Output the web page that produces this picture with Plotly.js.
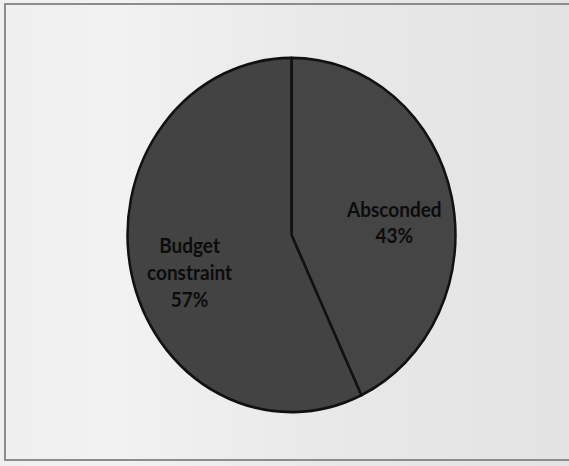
<!DOCTYPE html>
<html>
<head>
<meta charset="utf-8">
<script src="https://cdn.plot.ly/plotly-3.0.1.min.js"></script>
<style>
html,body{margin:0;padding:0;}
#wrap{position:relative;width:569px;height:466px;overflow:hidden;
  background:linear-gradient(90deg,#efefef 0%,#f2f2f2 20%,#e9e9e9 55%,#e3e3e3 100%);}
#frame{position:absolute;left:4px;top:3px;width:580px;height:458px;border:2px solid #8c8c8c;box-sizing:border-box;pointer-events:none;}
#chart{position:absolute;left:0;top:0;width:569px;height:466px;transform:scaleY(1.08);transform-origin:0 235px;}
</style>
</head>
<body>
<div id="wrap">
<div id="chart"></div>
<div id="frame"></div>
</div>
<script>
const categories = ["Absconded", "Budget<br>constraint"];
const shares = [43, 57];
const sliceColors = ["#454545", "#434343"];

const W = 569, H = 466;
const dom = {x: [0.2241, 0.8005], y: [0.1438, 0.8476]};

const trace = {
  type: "pie",
  labels: categories,
  values: shares,
  sort: false,
  direction: "clockwise",
  rotation: 0,
  textinfo: "none",
  marker: {colors: sliceColors, line: {color: "#111111", width: 2.5}},
  hoverinfo: "none",
  showlegend: false,
  domain: dom
};

// label positions derived from the slice mid-angles
const total = shares.reduce((a, b) => a + b, 0);
const cx = (dom.x[0] + dom.x[1]) / 2 * W;
const cyUp = (dom.y[0] + dom.y[1]) / 2 * H;
const R = Math.min((dom.x[1] - dom.x[0]) * W, (dom.y[1] - dom.y[0]) * H) / 2;
let cum = 0;
const annotations = shares.map((v, i) => {
  const mid = (cum + v / 2) / total * 2 * Math.PI;
  cum += v;
  const r = 0.64 * R;
  const px = cx + r * Math.sin(mid);
  const pyUp = cyUp + r * Math.cos(mid);
  return {
    xref: "paper", yref: "paper",
    x: px / W, y: pyUp / H,
    xanchor: "center", yanchor: "middle",
    yshift: -11,
    showarrow: false,
    align: "center",
    text: categories[i] + "<br>" + Math.round(v / total * 100) + "%",
    font: {family: "Lato, 'Open Sans', sans-serif", size: 19, weight: "bold", color: "#0c0c0c"}
  };
});

const layout = {
  width: W,
  height: H,
  margin: {l: 0, r: 0, t: 0, b: 0},
  paper_bgcolor: "rgba(0,0,0,0)",
  plot_bgcolor: "rgba(0,0,0,0)",
  showlegend: false,
  annotations: annotations
};

Plotly.newPlot("chart", [trace], layout, {displayModeBar: false, staticPlot: true});
</script>
</body>
</html>
